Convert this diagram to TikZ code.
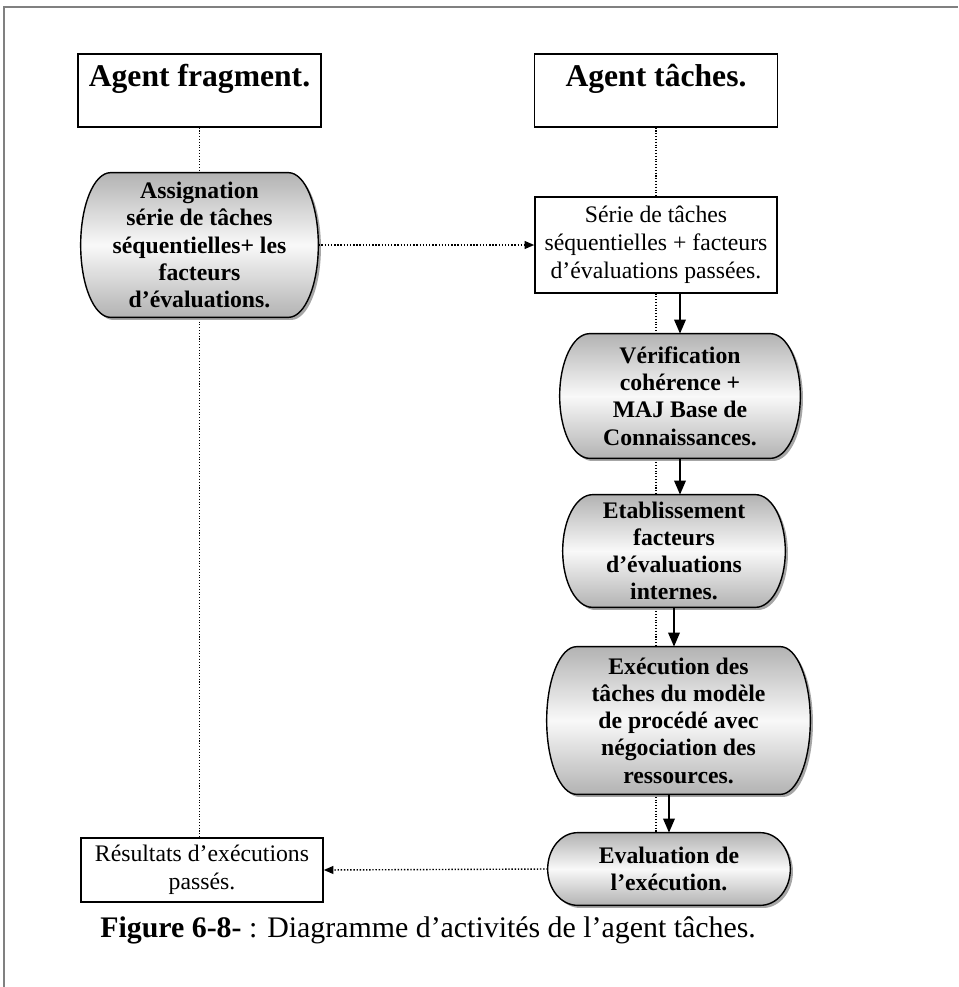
\documentclass[tikz,border=0pt]{standalone}
\usepackage{fontspec}
\setmainfont{Liberation Serif}
\usetikzlibrary{positioning,arrows.meta,calc,shadows}
\pgfdeclarelayer{lifeline}
\pgfdeclarelayer{capsule}
\pgfsetlayers{lifeline,capsule,main}
\newlength\capd
\setlength\capd{17pt}
\tikzset{
  agent/.style  = {rectangle, draw, line width=.9pt, fill=white,
                   minimum width=4.86cm, inner ysep=0pt,
                   text height=18.5pt, text depth=22.9pt,
                   font=\fontsize{18}{21}\selectfont\bfseries},
  note/.style   = {rectangle, draw, line width=.9pt, fill=white,
                   align=center, inner sep=0pt, minimum width=4.84cm,
                   font=\fontsize{13.5}{16}\selectfont},
  act/.style    = {rectangle, align=center, inner sep=0pt,
                   font=\fontsize{13.5}{15.5}\selectfont\bfseries},
  capfill/.style = {draw, line width=.8pt, top color=gray!60,
                    bottom color=gray!60, middle color=gray!5,
                    drop shadow={shadow xshift=1.5pt, shadow yshift=-1.5pt,
                                 fill=gray!70, opacity=1}},
  flow/.style   = {-{Triangle[length=8pt,width=6.5pt]}, line width=1.2pt},
  msg/.style    = {-{Triangle[length=5.5pt,width=4.5pt]}, densely dotted, line width=.8pt},
  life/.style   = {densely dotted, line width=.6pt}
}
% outline of an activity, drawn under its text
\newcommand\capsule[1]{%
  \begin{pgfonlayer}{capsule}
  \path[capfill] let \p1=(#1.north), \p2=(#1.south), \n1={(\y1-\y2)/2} in
    ([xshift=\capd]#1.north west) -- ([xshift=-\capd]#1.north east)
    arc[start angle=90, end angle=-90, x radius=\capd, y radius=\n1]
    -- ([xshift=\capd]#1.south west)
    arc[start angle=270, end angle=90, x radius=\capd, y radius=\n1] -- cycle;
  \end{pgfonlayer}}

\begin{document}
\begin{tikzpicture}[x=0.02cm,y=-0.02cm]
  \useasboundingbox (0,0) rectangle (958,987);
  \draw[gray, line width=1.2pt] (4,987) -- (4,7) -- (958,7);

  % the two agents
  \node[agent] (frag) at (199.5,90.5) {Agent fragment.};
  \node[agent] (tach) at (656,90.5) {Agent tâches.};

  % activities
  \node[act, minimum width=4.74cm, minimum height=2.88cm] (assign) at (199.5,245)
    {Assignation\\ série de tâches\\ séquentielles+ les\\ facteurs\\ d’évaluations.};
  \node[note, minimum height=1.92cm] (serie) at (656,245)
    {Série de tâches\\ séquentielles + facteurs\\ d’évaluations passées.};
  \node[act, minimum width=4.8cm, minimum height=2.48cm] (verif) at (680,396)
    {Vérification\\ cohérence +\\ MAJ Base de\\ Connaissances.};
  \node[act, minimum width=4.44cm, minimum height=2.24cm] (etab) at (674,551)
    {Etablissement\\ facteurs\\ d’évaluations\\ internes.};
  \node[act, minimum width=5.26cm, minimum height=2.94cm] (exec) at (678.5,720.5)
    {Exécution des\\ tâches du modèle\\ de procédé avec\\ négociation des\\ ressources.};
  \node[act, minimum width=4.84cm, minimum height=1.44cm] (evalu) at (669,869)
    {Evaluation de\\ l’exécution.};
  \node[note, minimum height=1.28cm] (result) at (202,870)
    {Résultats d’exécutions\\ passés.};

  \capsule{assign}
  \capsule{verif}
  \capsule{etab}
  \capsule{exec}
  \capsule{evalu}

  % lifelines
  \begin{pgfonlayer}{lifeline}
    \draw[life] (frag.south) -- (frag.south |- result.north);
    \draw[life] (tach.south) -- (tach.south |- evalu.north);
  \end{pgfonlayer}

  % messages and flow
  \draw[msg] (assign.east) -- (serie.west);
  \draw[msg] (evalu.west) -- (result.east);
  \draw[flow] (verif.north |- serie.south) -- (verif.north);
  \draw[flow] (verif.south) -- (verif.south |- etab.north);
  \draw[flow] (etab.south) -- (etab.south |- exec.north);
  \draw[flow] (evalu.north |- exec.south) -- (evalu.north);

  \node[anchor=west, inner sep=0pt, font=\fontsize{17}{20}\selectfont] (cap) at (100,930)
    {\textbf{Figure 6-8-} : Diagramme d’activités de l’agent tâches.};
\end{tikzpicture}
\end{document}
